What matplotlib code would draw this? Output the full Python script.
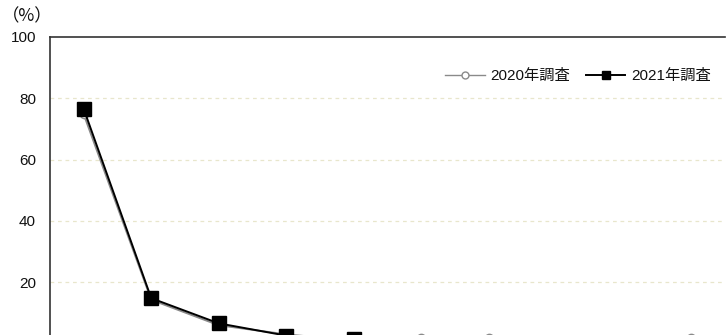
import matplotlib
matplotlib.use("Agg")
import matplotlib.pyplot as plt

plt.rcParams['font.family'] = ['Liberation Sans', 'Noto Sans CJK JP', 'DejaVu Sans']

# Category positions (x-axis labels fall outside the visible area)
categories = list(range(1, 11))
values_2020 = [74.8, 14.3, 6.0, 3.0, 1.0, 1.8, 1.8, 0.3, 0.3, 1.8]
values_2021 = [76.5, 14.8, 6.6, 2.6, 1.5, 0.3, 0.2, 0.1, 0.1, 0.2]
y_ticks = [20, 40, 60, 80, 100]
series_labels = ["2020年調査", "2021年調査"]

fig = plt.figure(figsize=(7.27, 3.35), dpi=100)
ax = fig.add_axes([50 / 727, -0.0257, 675 / 727, 0.9153])

x = [c - 0.5 for c in categories]

ax.plot(x, values_2020, color="#8a8a8a", lw=1.4, marker="o", ms=6,
        mfc="white", mec="#8a8a8a", mew=1.0, label=series_labels[0], zorder=3)
ax.plot(x, values_2021, color="#000000", lw=1.4, marker="s", ms=9.5,
        mfc="#000000", mec="#000000", label=series_labels[1], zorder=4)

ax.set_xlim(0, len(categories))
ax.set_ylim(0, 100)
ax.set_yticks(y_ticks)
ax.set_yticklabels([str(t) for t in y_ticks], fontsize=11)
ax.set_xticks([])
ax.tick_params(axis="y", length=0, pad=10, labelcolor="#111111")

for t in y_ticks[:-1]:
    ax.axhline(t, color="#e8e6cc", lw=0.9, ls=(0, (3, 3)), zorder=1)

for side in ("left", "top"):
    ax.spines[side].set_color("#333333")
    ax.spines[side].set_linewidth(1.2)
ax.spines["right"].set_visible(False)
ax.spines["bottom"].set_visible(False)

fig.text(27 / 727, 1 - 16 / 335, "（%）", fontsize=12.5, va="center", ha="center",
         color="#111111", family=["Noto Sans CJK JP", "DejaVu Sans"])

leg_2020 = plt.Line2D([], [], color="#8a8a8a", lw=1.0, marker="o", ms=5,
                      mfc="white", mec="#8a8a8a")
leg_2021 = plt.Line2D([], [], color="#000000", lw=1.4, marker="s", ms=5.5,
                      mfc="#000000", mec="#000000")
ax.legend([leg_2020, leg_2021], series_labels, ncol=2, frameon=False,
          loc="upper right", bbox_to_anchor=(1.0, 0.94), fontsize=11,
          handlelength=2.6, columnspacing=1.0, handletextpad=0.4,
          labelcolor="#111111")

fig.savefig("out.png", dpi=100)
